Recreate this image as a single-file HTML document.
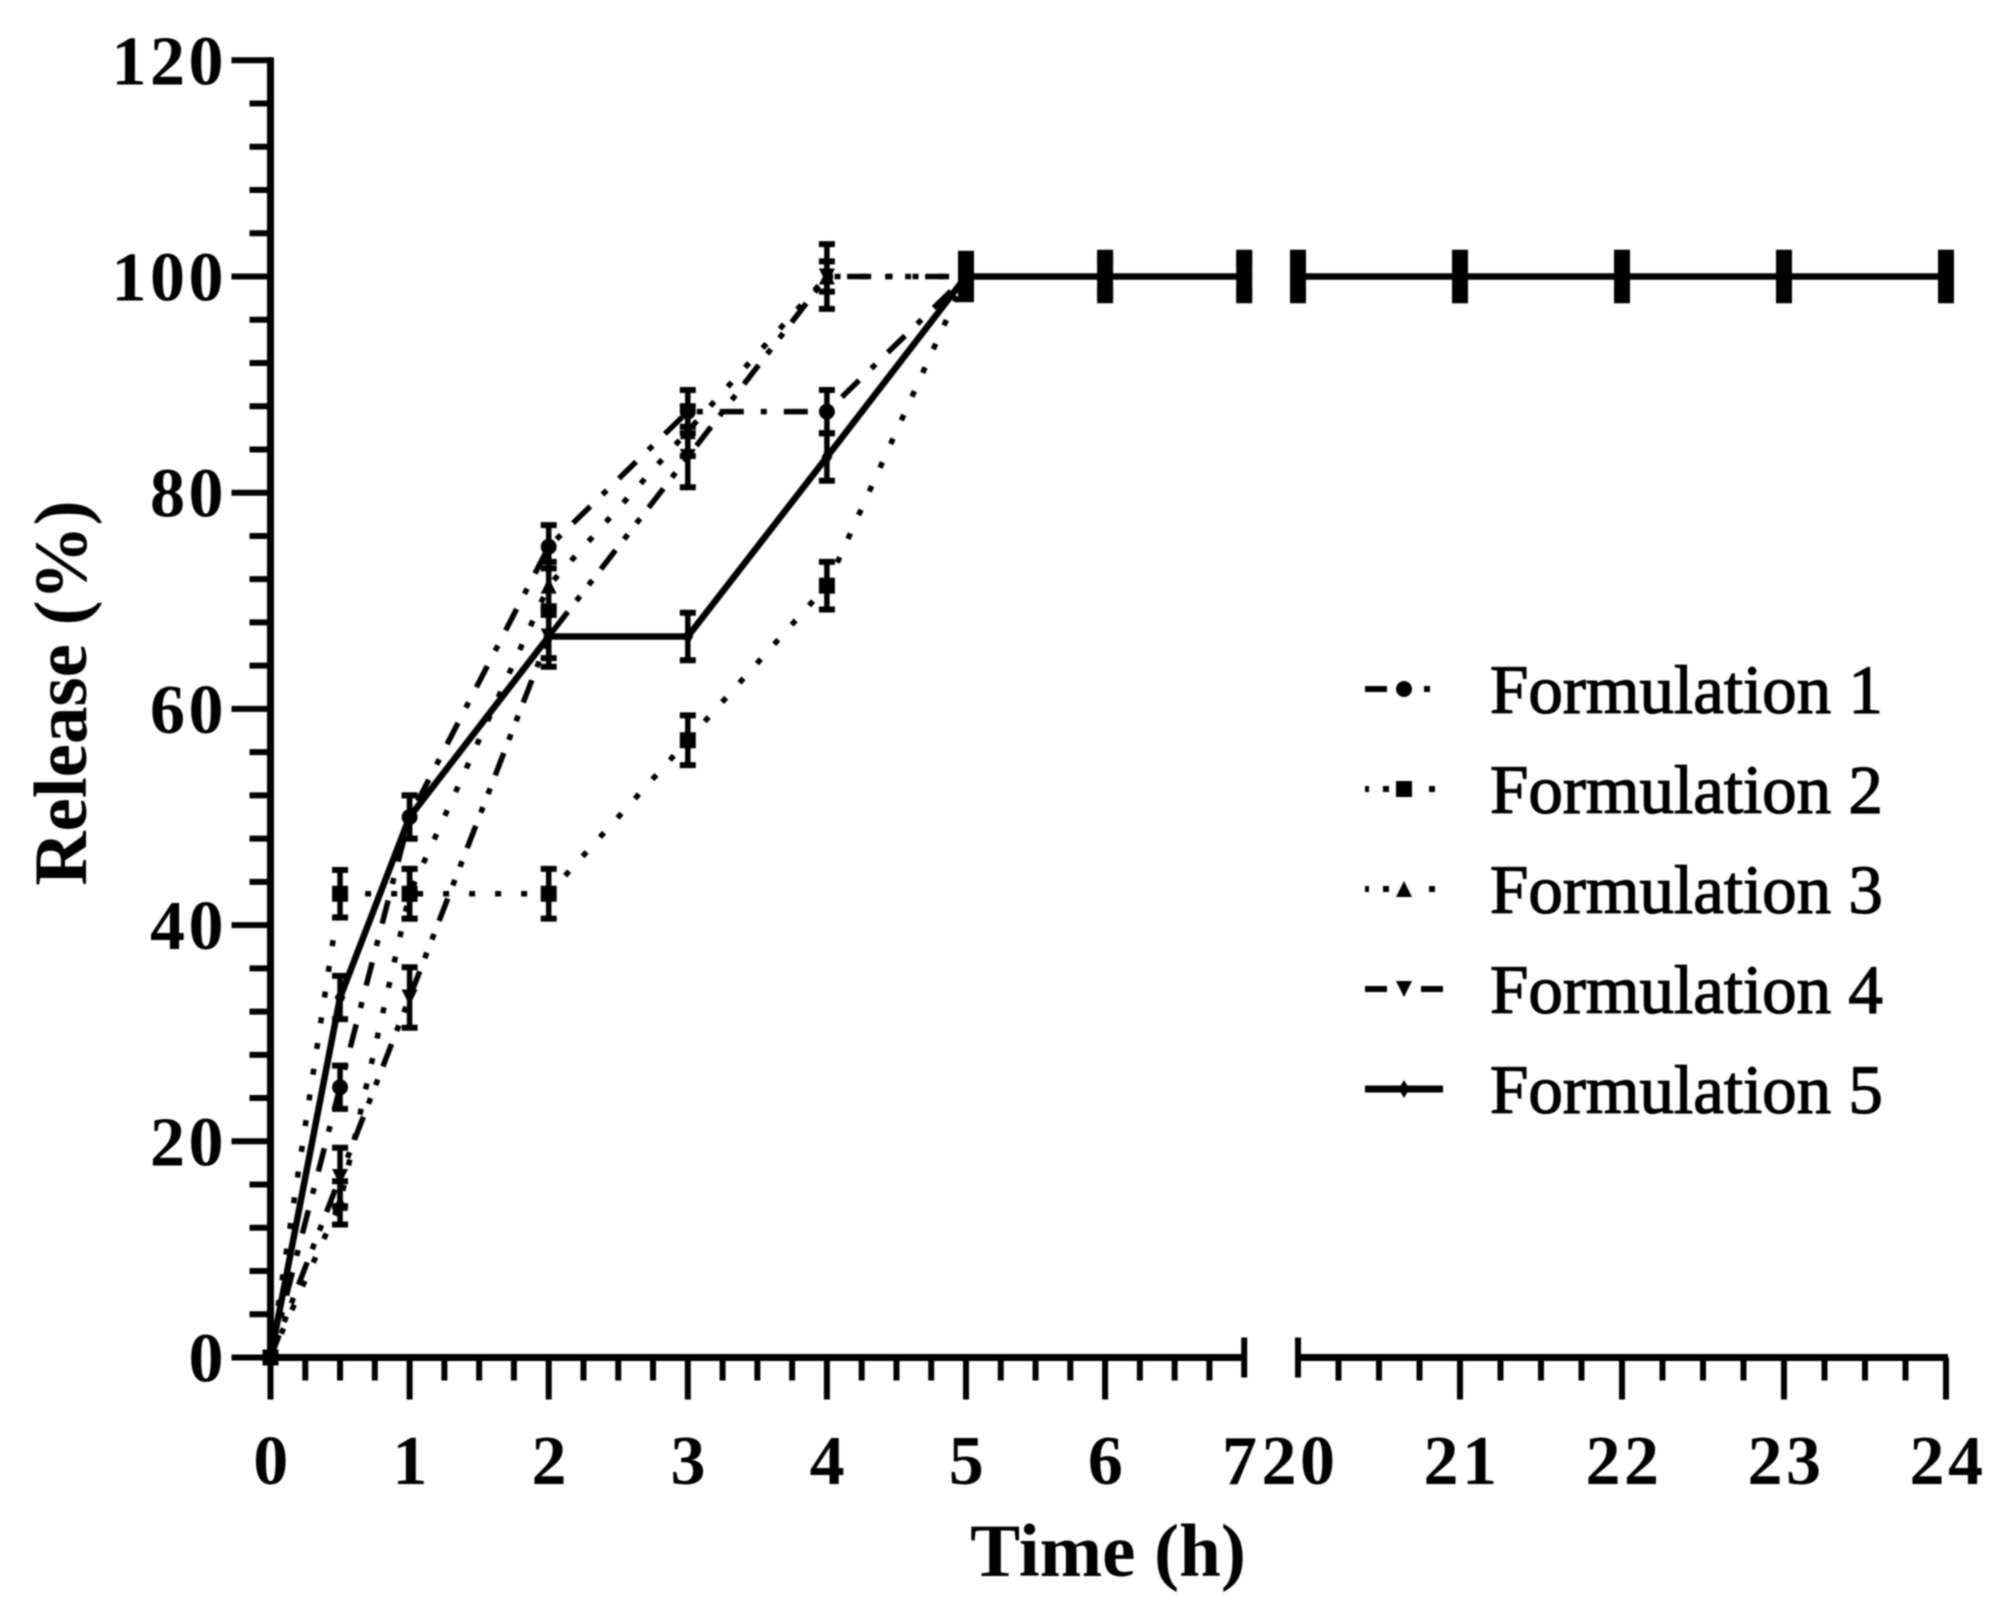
<!DOCTYPE html>
<html lang="en">
<head>
<meta charset="utf-8">
<title>Release over time</title>
<style>
html,body{margin:0;padding:0;background:#fff;}
svg{display:block;filter:blur(0.8px);}
text{font-family:"Liberation Serif",serif;fill:#000;}
.tick{font-size:70px;font-weight:bold;letter-spacing:3.5px;}
.title{font-size:75px;font-weight:bold;}
.leg{font-size:69px;stroke:#000;stroke-width:1.3px;}
</style>
</head>
<body>
<svg id="chart" width="2001" height="1614" viewBox="0 0 2001 1614" xmlns="http://www.w3.org/2000/svg">
  <rect x="0" y="0" width="2001" height="1614" fill="#fff"/>
  <g id="axes"></g>
  <g id="series"></g>
  <g id="legend"></g>
  <text class="title" x="1108" y="1576" text-anchor="middle">Time (h)</text>
  <text class="title" transform="translate(86,693) rotate(-90)" text-anchor="middle">Release (%)</text>
</svg>
<script>
const times = [0, 0.5, 1, 2, 3, 4, 5, 6, 7, 20, 21, 22, 23, 24];
const seriesNames = ["Formulation 1", "Formulation 2", "Formulation 3", "Formulation 4", "Formulation 5"];
const f1Values = [0, 25, 50, 75, 87.5, 87.5, 100, 100, 100, 100, 100, 100, 100, 100];
const f2Values = [0, 42.9, 42.9, 42.9, 57.1, 71.4, 100, 100, 100, 100, 100, 100, 100, 100];
const f3Values = [0, 14.3, 42.9, 71.4, 85.7, 100, 100, 100, 100, 100, 100, 100, 100, 100];
const f4Values = [0, 16.7, 33.3, 66.7, 83.3, 100, 100, 100, 100, 100, 100, 100, 100, 100];
const f5Values = [0, 33.3, 50, 66.7, 66.7, 83.3, 100, 100, 100, 100, 100, 100, 100, 100];
const f1Errors = [0, 2, 2, 2, 2, 2, 2.1, 2.2, 2.2, 2.2, 2.2, 2.2, 2.2, 2.2];
const f2Errors = [0, 2.2, 2.3, 2.3, 2.3, 2.2, 1.8, 1.9, 1.9, 1.9, 1.9, 1.9, 1.9, 1.9];
const f3Errors = [0, 2, 2.3, 2.2, 2.3, 3, 1.5, 1.6, 1.6, 1.6, 1.6, 1.6, 1.6, 1.6];
const f4Errors = [0, 2.7, 2.8, 2.8, 2.8, 1.4, 1.2, 1.3, 1.3, 1.3, 1.3, 1.3, 1.3, 1.3];
const f5Errors = [0, 2, 2, 2, 2.2, 2.2, 0.9, 1, 1, 1, 1, 1, 1, 1];
const yMajorTicks = [0, 20, 40, 60, 80, 100, 120];
const yMinorStep = 4;
const xMajorLeft = [0, 1, 2, 3, 4, 5, 6, 7];
const xMajorRight = [20, 21, 22, 23, 24];
const xMinorStep = 0.25;
const allValues = [f1Values, f2Values, f3Values, f4Values, f5Values];
const allErrors = [f1Errors, f2Errors, f3Errors, f4Errors, f5Errors];
const dashPatterns = ["24 17 6 17", "6 20", "6 20", "24 14 6 14 6 14", ""];
const lineWidths = [5.5, 5.5, 5.5, 5.5, 6.5];
const markerShapes = ["circle", "square", "up", "down", "diamond"];

const NS = "http://www.w3.org/2000/svg";
function X(t) {
  return t <= 7 ? 270.5 + t * 139.1 : 1298 + (t - 20) * 162;
}
function Y(v) {
  return 1357.5 - v * 10.81;
}
function make(tag, parent, attrs, txt) {
  const el = document.createElementNS(NS, tag);
  for (const k in attrs) el.setAttribute(k, attrs[k]);
  if (txt !== undefined) el.textContent = txt;
  parent.appendChild(el);
  return el;
}
function seg(parent, x1, y1, x2, y2, w) {
  return make("line", parent, {x1: x1, y1: y1, x2: x2, y2: y2, stroke: "#000", "stroke-width": w});
}
function marker(parent, shape, x, y, r) {
  let el;
  if (shape === "circle") {
    el = make("circle", parent, {cx: x, cy: y, r: r, fill: "#000"});
  } else if (shape === "square") {
    el = make("rect", parent, {x: x - r, y: y - r, width: 2 * r, height: 2 * r, fill: "#000"});
  } else {
    let pts;
    if (shape === "up") pts = [[x, y - r], [x + r, y + r], [x - r, y + r]];
    else if (shape === "down") pts = [[x, y + r], [x + r, y - r], [x - r, y - r]];
    else pts = [[x, y - r], [x + r * 0.6, y], [x, y + r], [x - r * 0.6, y]];
    el = make("polygon", parent, {points: pts.map(p => p.join(",")).join(" "), fill: "#000"});
  }
  return el;
}

const axes = document.getElementById("axes");
const axisY = Y(0);

// y axis
const yLine = seg(axes, X(0), Y(120) - 3, X(0), axisY + 3, 7);


for (let v = 0; v <= 120; v += yMinorStep) {
  if (yMajorTicks.includes(v)) continue;
  const t = seg(axes, X(0) - 21, Y(v), X(0), Y(v), 6);
  
  
}
yMajorTicks.forEach(v => {
  const t = seg(axes, X(0) - 39, Y(v), X(0), Y(v), 6);
  
  
  const l = make("text", axes, {class: "tick", x: 227, y: Y(v) + 24, "text-anchor": "end"}, String(v));
  
  
});

// x axis, two segments
const xLeft = seg(axes, X(0), axisY, X(7), axisY, 7);


const xRight = seg(axes, X(20), axisY, X(24) + 2, axisY, 7);



function drawXTicks(start, end, majors) {
  for (let t = start; t <= end; t += xMinorStep) {
    if (majors.includes(t)) continue;
    const m = seg(axes, X(t), axisY, X(t), axisY + 23, 6);
    
    
  }
  majors.forEach(t => {
    const isBreak = t === 7 || t === 20;
    const m = seg(axes, X(t), isBreak ? axisY - 20 : axisY, X(t), isBreak ? axisY + 20 : axisY + 42, 6);
    
    
    const l = make("text", axes, {class: "tick", x: X(t) + (t === 7 ? -3 : t === 20 ? 2 : 2), y: 1484, "text-anchor": "middle"}, String(t));
    
    
  });
}
drawXTicks(0, 7, xMajorLeft);
drawXTicks(20, 24, xMajorRight);

// series
const seriesGroup = document.getElementById("series");
allValues.forEach((vals, s) => {
  const g = make("g", seriesGroup, {});
  
  
  const errs = allErrors[s];
  function drawLine(lo, hi) {
    const pts = [];
    times.forEach((t, i) => { if (t >= lo && t <= hi) pts.push(X(t) + "," + Y(vals[i])); });
    const attrs = {points: pts.join(" "), fill: "none", stroke: "#000", "stroke-width": lineWidths[s], "stroke-linejoin": "round"};
    if (dashPatterns[s]) attrs["stroke-dasharray"] = dashPatterns[s];
    const pl = make("polyline", g, attrs);
    
    
  }
  drawLine(0, 7);
  drawLine(20, 24);
  times.forEach((t, i) => {
    const x = X(t), y = Y(vals[i]), e = errs[i];
    if (e > 0) {
      const bar = make("g", g, {});
      
      
      seg(bar, x, Y(vals[i] + e), x, Y(vals[i] - e), 5.5);
      seg(bar, x - 8, Y(vals[i] + e), x + 8, Y(vals[i] + e), 6);
      seg(bar, x - 8, Y(vals[i] - e), x + 8, Y(vals[i] - e), 6);
    }
    const mk = marker(g, markerShapes[s], x, y, s === 4 ? 9 : 8);
    
    
  });
});

// legend
const legend = document.getElementById("legend");
seriesNames.forEach((name, s) => {
  const g = make("g", legend, {});
  
  
  const ly = 689 + s * 100;
  const attrs = {x1: 1365, y1: ly, x2: 1443, y2: ly, stroke: "#000", "stroke-width": s === 4 ? 7 : 6};
  const patterns = ["22 37 6 40", "4 14 6 40 6 40", "4 14 6 40 6 40", "22 34 22 40", ""];
  if (patterns[s]) attrs["stroke-dasharray"] = patterns[s];
  const sample = make("line", g, attrs);
  
  
  const mk = marker(g, markerShapes[s], 1404, ly, s === 4 ? 9 : 8);
  
  
  const label = make("text", g, {class: "leg", x: 1490, y: ly + 24}, name);
  
  
});
</script>
</body>
</html>
